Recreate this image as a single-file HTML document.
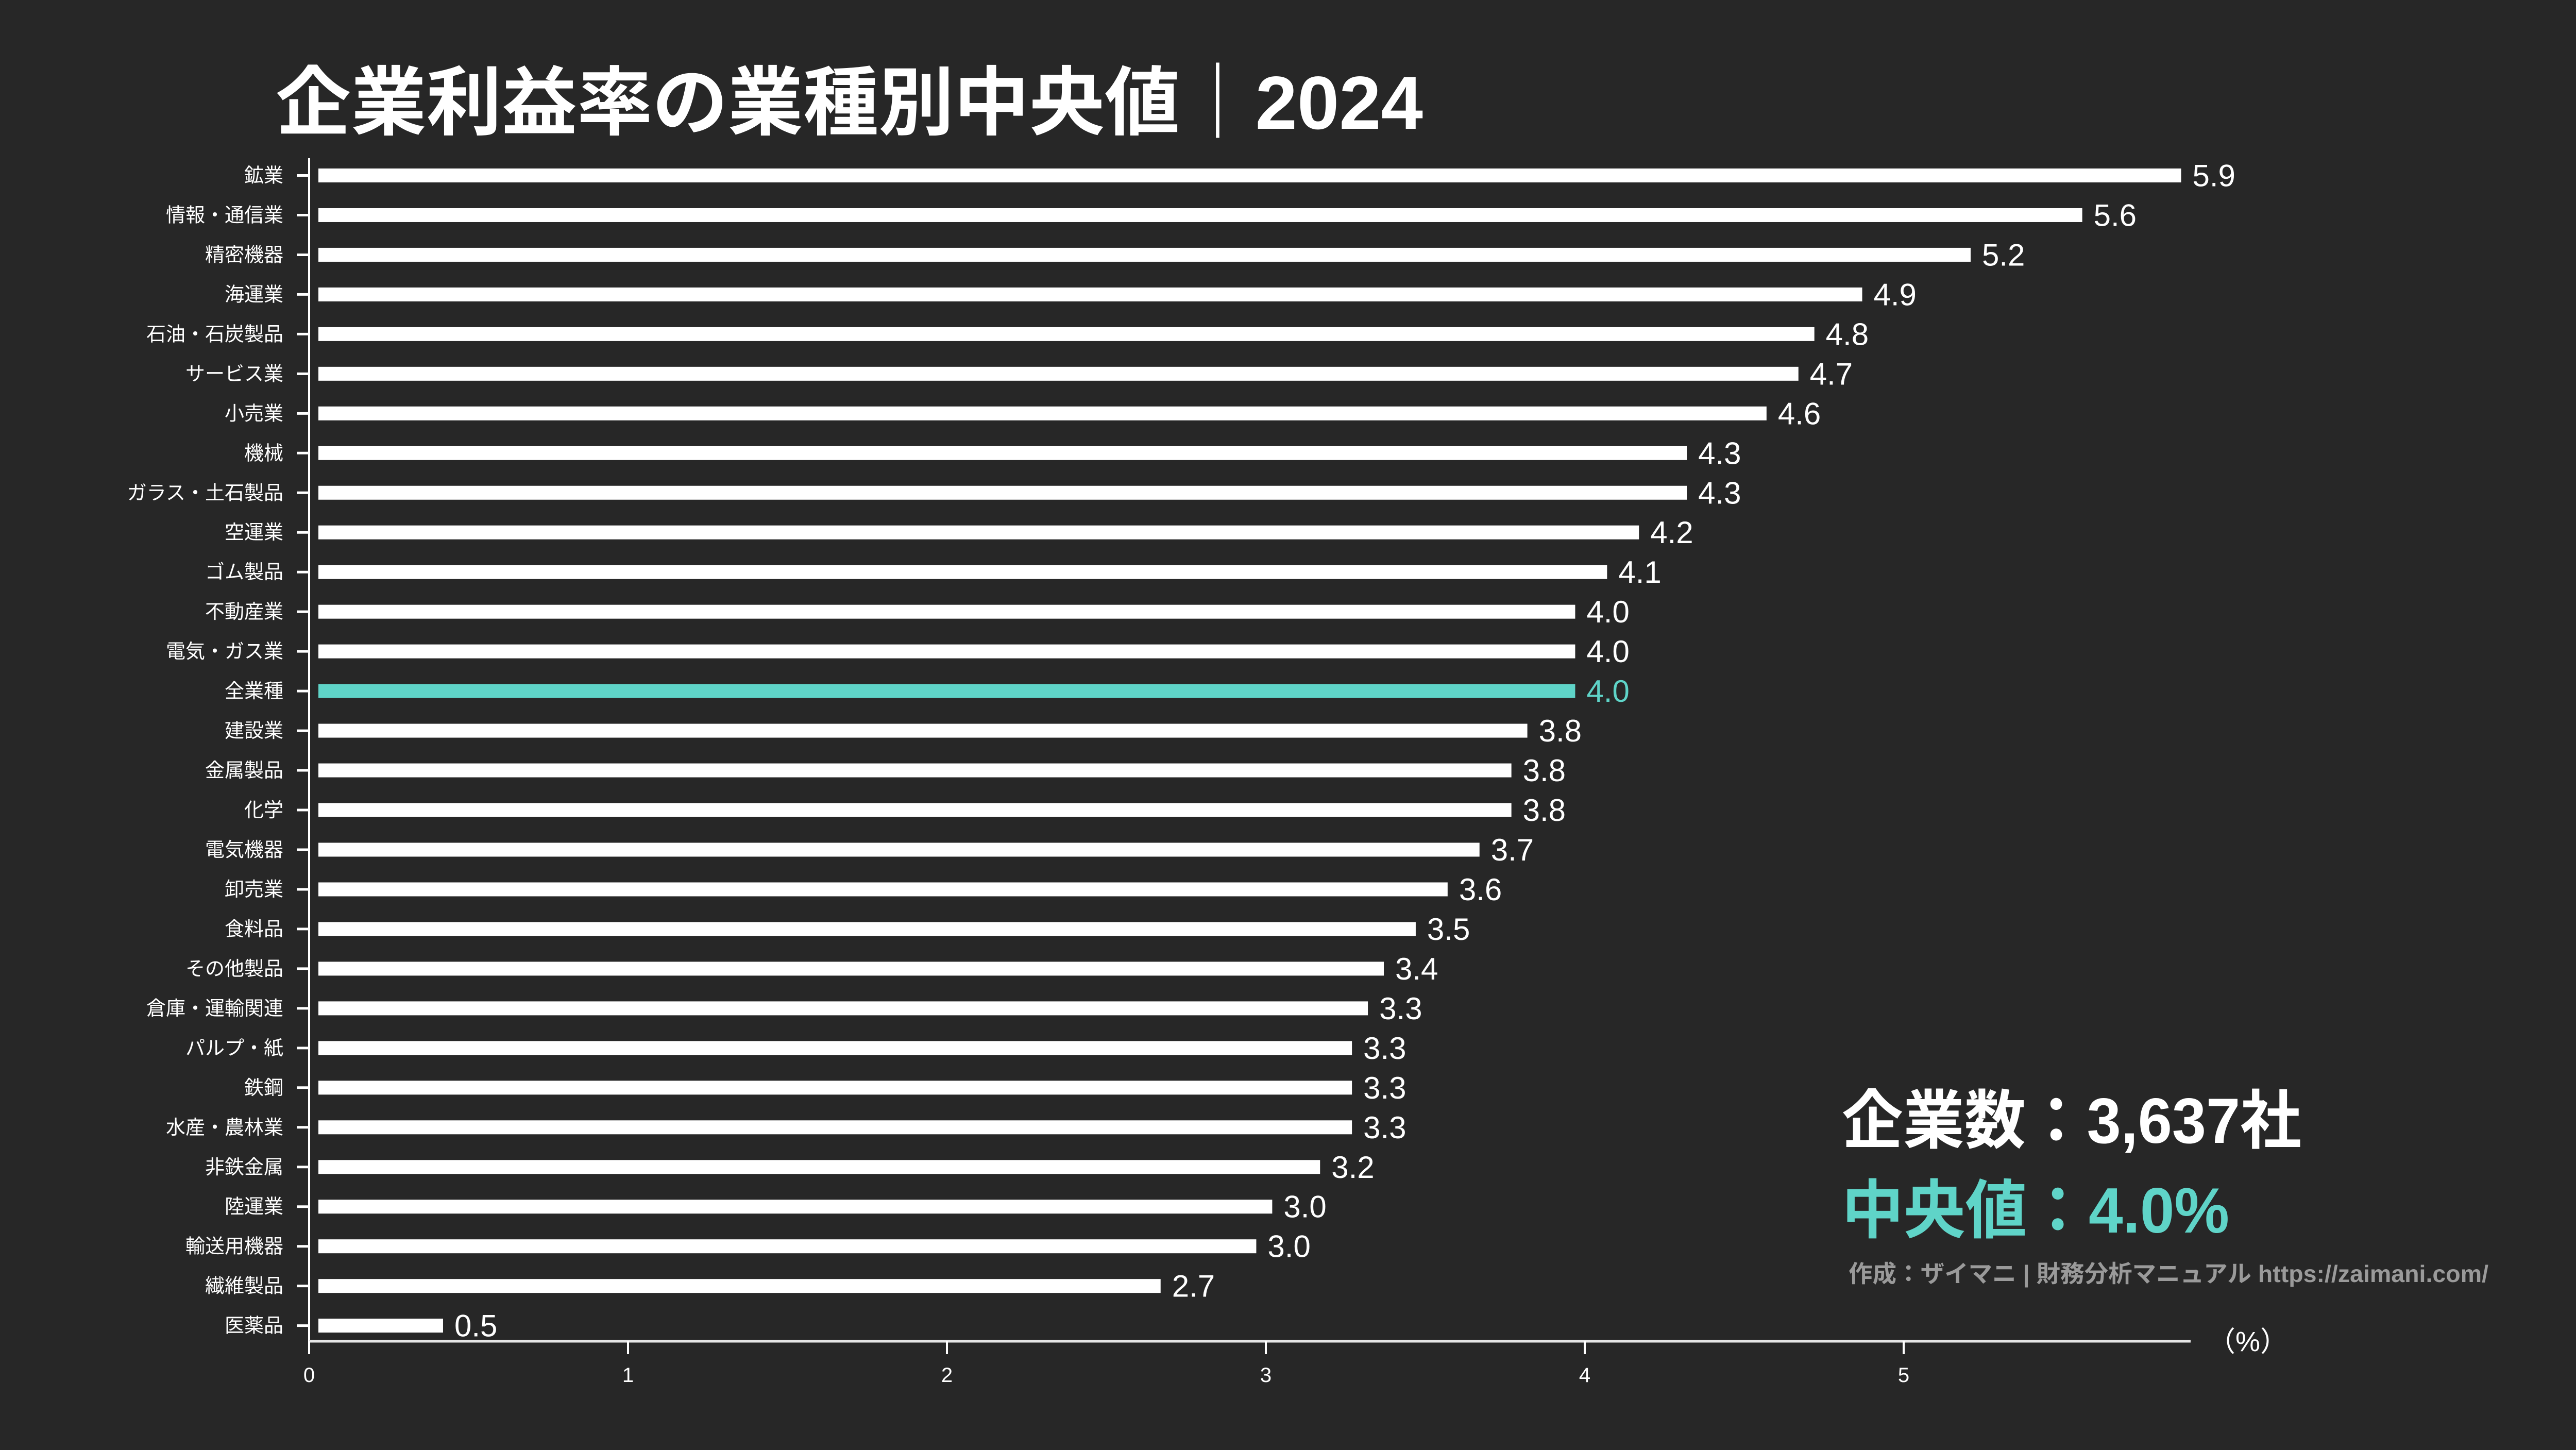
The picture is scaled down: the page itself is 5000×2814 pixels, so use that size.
<!DOCTYPE html>
<html><head><meta charset="utf-8"><style>
html,body{margin:0;padding:0;background:#272727;}
svg{display:block;}
</style></head><body>
<svg id="chart" width="5000" height="2814" viewBox="0 0 5000 2814" xmlns="http://www.w3.org/2000/svg">
<rect x="0" y="0" width="5000" height="2814" fill="#272727"/>
<text x="535" y="250" fill="#ffffff" font-family="'Liberation Sans','Noto Sans CJK JP',sans-serif" font-weight="bold" font-size="146" textLength="2227" lengthAdjust="spacingAndGlyphs">企業利益率の業種別中央値｜2024</text>
<g id="bars"></g>
<g id="axes"></g>
<text x="3575" y="2218" fill="#ffffff" font-family="'Liberation Sans','Noto Sans CJK JP',sans-serif" font-weight="bold" font-size="124" textLength="892" lengthAdjust="spacingAndGlyphs">企業数：3,637社</text>
<text x="3575" y="2392" fill="#5fd4c8" font-family="'Liberation Sans','Noto Sans CJK JP',sans-serif" font-weight="bold" font-size="124" textLength="752" lengthAdjust="spacingAndGlyphs">中央値：4.0%</text>
<text x="3588" y="2488" fill="#9a9a9a" font-family="'Liberation Sans','Noto Sans CJK JP',sans-serif" font-weight="bold" font-size="46" textLength="1242" lengthAdjust="spacingAndGlyphs">作成：ザイマニ | 財務分析マニュアル https://zaimani.com/</text>
<text x="4285" y="2622" fill="#ffffff" font-family="'Liberation Sans','Noto Sans CJK JP',sans-serif" font-size="54">（%）</text>
</svg>
<script>
const categories = ["鉱業","情報・通信業","精密機器","海運業","石油・石炭製品","サービス業","小売業","機械","ガラス・土石製品","空運業","ゴム製品","不動産業","電気・ガス業","全業種","建設業","金属製品","化学","電気機器","卸売業","食料品","その他製品","倉庫・運輸関連","パルプ・紙","鉄鋼","水産・農林業","非鉄金属","陸運業","輸送用機器","繊維製品","医薬品"];
const values = [5.87,5.56,5.21,4.87,4.72,4.67,4.57,4.32,4.32,4.17,4.07,3.97,3.97,3.97,3.82,3.77,3.77,3.67,3.57,3.47,3.37,3.32,3.27,3.27,3.27,3.17,3.02,2.97,2.67,0.42];
const valueLabels = ["5.9","5.6","5.2","4.9","4.8","4.7","4.6","4.3","4.3","4.2","4.1","4.0","4.0","4.0","3.8","3.8","3.8","3.7","3.6","3.5","3.4","3.3","3.3","3.3","3.3","3.2","3.0","3.0","2.7","0.5"];
const highlight = "全業種";
const xTicks = [0,1,2,3,4,5];
const xTickLabels = ["0","1","2","3","4","5"];

const NS = "http://www.w3.org/2000/svg";
const X0 = 600, UNIT = 619, Y0 = 340.5, STEP = 76.97, BAR_H = 27;
function xs(v){ return X0 + v*UNIT; }
function ys(i){ return Y0 + i*STEP; }
function mk(tag, attrs){ const e=document.createElementNS(NS,tag); for(const k in attrs) e.setAttribute(k, attrs[k]); return e; }

const bars = document.getElementById('bars');
categories.forEach((c,i)=>{
  const col = c===highlight ? "#5fd4c8" : "#ffffff";
  const y = ys(i);
  const r = mk('rect',{x:X0+18,y:y-BAR_H/2,width:Math.max(0,xs(values[i])-X0-18),height:BAR_H,fill:col});
  
  
  bars.appendChild(r);
  const t = mk('text',{x:xs(values[i])+22,y:y+21,fill:col,'font-family':"'Liberation Sans',sans-serif",'font-size':60});
  t.textContent = valueLabels[i];
  
  
  bars.appendChild(t);
  const lb = mk('text',{x:550,y:y+13,fill:"#ffffff",'text-anchor':'end','font-family':"'Liberation Sans','Noto Sans CJK JP',sans-serif",'font-size':38});
  lb.textContent = c;
  
  
  bars.appendChild(lb);
  const tk = mk('line',{x1:576,x2:600,y1:y,y2:y,stroke:"#ffffff","stroke-width":5});
  
  
  bars.appendChild(tk);
});

const axes = document.getElementById('axes');
const ya = mk('line',{x1:X0,x2:X0,y1:307,y2:2628,stroke:"#ffffff","stroke-width":4});


axes.appendChild(ya);
const xa = mk('line',{x1:X0,x2:4252,y1:2603,y2:2603,stroke:"#e6e6e6","stroke-width":5});


axes.appendChild(xa);
xTicks.forEach((v,i)=>{
  const l = mk('line',{x1:xs(v),x2:xs(v),y1:2603,y2:2628,stroke:"#ffffff","stroke-width":4});
  
  
  axes.appendChild(l);
  const t = mk('text',{x:xs(v),y:2682,fill:"#ffffff",'text-anchor':'middle','font-family':"'Liberation Sans',sans-serif",'font-size':40});
  t.textContent = xTickLabels[i];
  
  
  axes.appendChild(t);
});
</script>
</body></html>
